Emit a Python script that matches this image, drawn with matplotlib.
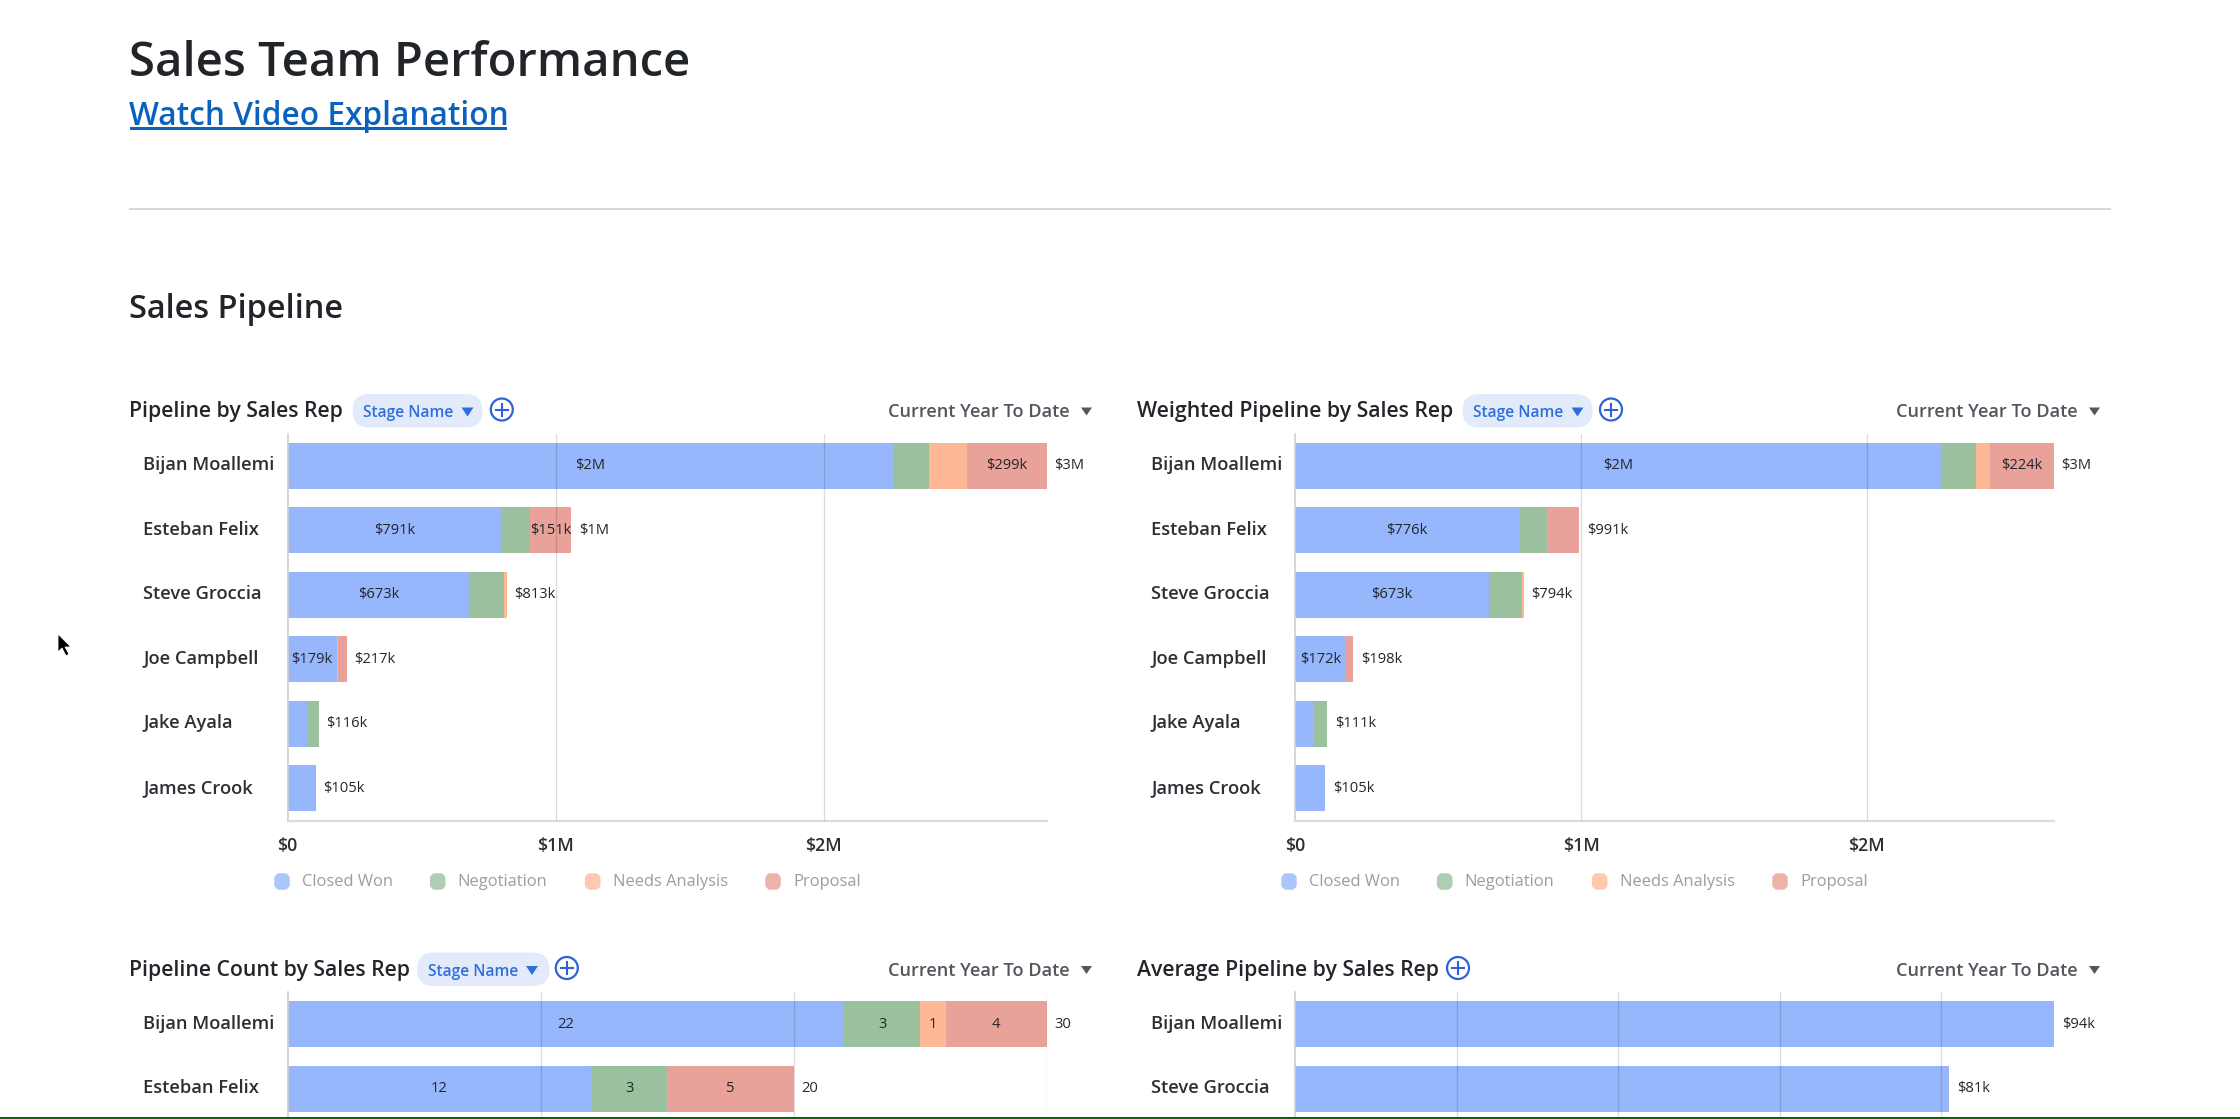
import matplotlib
matplotlib.use("Agg")
import matplotlib.pyplot as plt
from matplotlib.patches import FancyBboxPatch, Circle, Polygon, Rectangle
from matplotlib.transforms import ScaledTranslation

plt.rcParams['font.family'] = ['Open Sans', 'DejaVu Sans']

W, H = 2240, 1119
DARK, GREY = '#2b3036', '#52575e'
BLUE = '#2f6fdc'

stages = ['Closed Won', 'Negotiation', 'Needs Analysis', 'Proposal']
stage_colors = ['#97b7fc', '#9bc09d', '#ffb896', '#e8a299']
legend_colors = ['#abc6fd', '#afcdb1', '#ffc9b0', '#ecb3ab']

reps_full = ['Bijan Moallemi', 'Esteban Felix', 'Steve Groccia', 'Joe Campbell', 'Jake Ayala', 'James Crook']

# Pipeline by Sales Rep
pipe_closed = [2261000, 797000, 678000, 183000, 74000, 105000]
pipe_negot = [131000, 109000, 128000, 0, 42000, 0]
pipe_needs = [140000, 0, 12000, 4000, 0, 0]
pipe_prop = [299000, 152000, 0, 34000, 0, 0]
pipe_closed_lbl = ['$2M', '$791k', '$673k', '$179k', '', '']
pipe_prop_lbl = ['$299k', '$151k', '', '', '', '']
pipe_total_lbl = ['$3M', '$1M', '$813k', '$217k', '$116k', '$105k']

# Weighted Pipeline by Sales Rep
wtd_closed = [2261000, 781000, 678000, 176000, 65000, 105000]
wtd_negot = [120000, 100000, 114000, 0, 46000, 0]
wtd_needs = [49000, 0, 7000, 0, 0, 0]
wtd_prop = [224000, 113000, 0, 26000, 0, 0]
wtd_closed_lbl = ['$2M', '$776k', '$673k', '$172k', '', '']
wtd_prop_lbl = ['$224k', '', '', '', '', '']
wtd_total_lbl = ['$3M', '$991k', '$794k', '$198k', '$111k', '$105k']

# Pipeline Count by Sales Rep (cut off by the screenshot edge)
count_reps = ['Bijan Moallemi', 'Esteban Felix']
count_closed = [22, 12]
count_negot = [3, 3]
count_needs = [1, 0]
count_prop = [4, 5]
count_lbls = [['22', '12'], ['3', '3'], ['1', ''], ['4', '5']]
count_total_lbl = ['30', '20']

# Average Pipeline by Sales Rep (cut off by the screenshot edge)
avg_reps = ['Bijan Moallemi', 'Steve Groccia']
avg_vals = [94000, 81000]
avg_lbl = ['$94k', '$81k']

money_ticks = [0, 1000000, 2000000]
money_tick_lbl = ['$0', '$1M', '$2M']
count_ticks = [10, 20, 30]
avg_ticks = [20000, 40000, 60000, 80000]

fig = plt.figure(figsize=(W / 100, H / 100), dpi=100, facecolor='white')

ov = fig.add_axes([0, 0, 1, 1], zorder=5)
ov.set_xlim(0, W)
ov.set_ylim(H, 0)
ov.axis('off')
ov.patch.set_alpha(0)


def make_axes(l, r, t, b):
    return fig.add_axes([l / W, 1 - b / H, (r - l) / W, (b - t) / H], zorder=2)


def style(ax, reps, ticks, xmax, ymax, ticklabels=None, bottom=True):
    ax.set_xlim(0, xmax)
    ax.set_ylim(ymax, -0.5)
    ax.set_yticks(range(len(reps)), reps)
    for s in ('top', 'right'):
        ax.spines[s].set_visible(False)
    ax.spines['left'].set_color('#cfcfcf')
    ax.spines['left'].set_linewidth(1.2)
    ax.spines['bottom'].set_color('#dcdcdc')
    ax.spines['bottom'].set_linewidth(1.6)
    ax.spines['bottom'].set_visible(bottom)
    ax.tick_params(axis='y', length=0, pad=104)
    for t in ax.get_yticklabels():
        t.set_ha('left')
        t.set_va('center_baseline')
        t.set_fontsize(13.2)
        t.set_fontweight(600)
        t.set_color(DARK)
        t.set_transform(t.get_transform() + ScaledTranslation(0, 2.5 / 100, fig.dpi_scale_trans))
    ax.set_xticks(ticks)
    if ticklabels:
        ax.set_xticklabels(ticklabels, fontsize=12.8, fontweight=600, color=DARK)
        ax.tick_params(axis='x', length=0, pad=12)
    else:
        ax.tick_params(axis='x', length=0, labelbottom=False)
    for x in ticks:
        if x:
            ax.axvline(x, color='black', alpha=0.14, lw=0.9, zorder=4)


def stacked(ax, series, reps):
    left = [0] * len(reps)
    conts = []
    for vals, c, s in zip(series, stage_colors, stages):
        conts.append(ax.barh(range(len(reps)), vals, left=left, height=0.716, color=c,
                             edgecolor='none', label=s, zorder=2))
        left = [a + b for a, b in zip(left, vals)]
    return conts


def bar_labels(ax, cont, labels, kind='center', pad=0):
    ax.bar_label(cont, labels=labels, label_type=kind, padding=pad, fontsize=10.6,
                 color='#22262b', zorder=6)


def header(title, tx, base, pill, plus_x, cur_x, cur_tri):
    ov.text(tx, base, title, fontsize=15.3, fontweight=600, color='#22262b', va='baseline')
    if pill:
        x0, x1 = pill
        ov.add_patch(FancyBboxPatch((x0, base - 23.5), x1 - x0, 33.5,
                                    boxstyle='round,pad=0,rounding_size=16.7', fc='#e3ebfb', ec='none',
                                    mutation_aspect=1))
        ov.text(x0 + 10.5, base - 0.5, 'Stage Name', fontsize=11.2, fontweight=600, color=BLUE, va='baseline')
        ov.add_patch(Polygon([(x0 + 109, base - 10), (x0 + 121, base - 10), (x0 + 115, base - 1)],
                             fc=BLUE, ec='none'))
    ov.add_patch(Circle((plus_x, base - 8), 11, fc='white', ec='#2f62d6', lw=1.6))
    ov.plot([plus_x - 6, plus_x + 6], [base - 8, base - 8], color='#2f62d6', lw=1.5)
    ov.plot([plus_x, plus_x], [base - 14, base - 2], color='#2f62d6', lw=1.5)
    ov.text(cur_x, base - 0.5, 'Current Year To Date', fontsize=13.1, fontweight=600, color=GREY, va='baseline')
    ov.add_patch(Polygon([(cur_tri, base - 10), (cur_tri + 11, base - 10), (cur_tri + 5.5, base - 2)],
                         fc=GREY, ec='none'))


def legend(xs, texts_x):
    for s, c, x, tx in zip(stages, legend_colors, xs, texts_x):
        ov.add_patch(FancyBboxPatch((x + 3, 876), 10, 11, boxstyle='round,pad=0,rounding_size=3',
                                    fc=c, ec=c, lw=4.0, mutation_aspect=1))
        ov.text(tx, 886.5, s, fontsize=11.85, color='#9a9da1', va='baseline')


# --- page heading ---
ov.text(129, 76, 'Sales Team Performance', fontsize=34, fontweight=600, color='#212529', va='baseline')
ov.text(129, 125, 'Watch Video Explanation', fontsize=22.8, fontweight=600, color='#0b62be', va='baseline')
ov.add_patch(Rectangle((129.5, 127), 377, 3, fc='#0b62be', ec='none'))
ov.add_patch(Rectangle((129, 208), 1982, 2, fc='#d6d6d6', ec='none'))
ov.text(129, 318.5, 'Sales Pipeline', fontsize=23.4, fontweight=600, color='#212529', va='baseline')

# --- mouse pointer ---
ov.add_patch(Polygon([(58, 634), (58, 652), (62, 648), (66, 656), (69, 654), (65, 647), (71, 647)],
                     fc='black', ec='white', lw=0.6))

# --- chart 1 ---
ax1 = make_axes(287.5, 1047, 433.5, 820.5)
style(ax1, reps_full, money_ticks, 2832000, 5.5, money_tick_lbl)
c = stacked(ax1, [pipe_closed, pipe_negot, pipe_needs, pipe_prop], reps_full)
bar_labels(ax1, c[0], pipe_closed_lbl)
bar_labels(ax1, c[3], pipe_prop_lbl)
bar_labels(ax1, c[3], pipe_total_lbl, 'edge', 5.5)
header('Pipeline by Sales Rep', 129, 417.5, (352.5, 482.6), 501.8, 887.6, 1081)
legend([274, 429.7, 584.7, 765], [301.5, 457, 613, 793.5])

# --- chart 2 ---
ax2 = make_axes(1295.4, 2054.3, 433.5, 820.5)
style(ax2, reps_full, money_ticks, 2656000, 5.5, money_tick_lbl)
c = stacked(ax2, [wtd_closed, wtd_negot, wtd_needs, wtd_prop], reps_full)
bar_labels(ax2, c[0], wtd_closed_lbl)
bar_labels(ax2, c[3], wtd_prop_lbl)
bar_labels(ax2, c[3], wtd_total_lbl, 'edge', 5.5)
header('Weighted Pipeline by Sales Rep', 1137, 417.5, (1462.5, 1592.6), 1611, 1895.5, 2089)
legend([1281, 1436.7, 1591.7, 1772], [1309, 1464, 1620, 1800.5])

# --- chart 3 ---
ax3 = make_axes(287.5, 1047, 992, 1117)
style(ax3, count_reps, count_ticks, 30, 1.434, bottom=False)
c = stacked(ax3, [count_closed, count_negot, count_needs, count_prop], count_reps)
for k in range(4):
    bar_labels(ax3, c[k], count_lbls[k])
bar_labels(ax3, c[3], count_total_lbl, 'edge', 5.5)
header('Pipeline Count by Sales Rep', 129, 976, (417, 549.6), 566.8, 887.6, 1081)

# --- chart 4 ---
ax4 = make_axes(1295.4, 2054.3, 992, 1117)
style(ax4, avg_reps, avg_ticks, 94000, 1.434, bottom=False)
b = ax4.barh(range(2), avg_vals, height=0.716, color=stage_colors[0], edgecolor='none', zorder=2)
bar_labels(ax4, b, avg_lbl, 'edge', 5.5)
header('Average Pipeline by Sales Rep', 1137, 976, None, 1458, 1895.5, 2089)

# bottom edge line of the screenshot
ov.add_patch(Rectangle((0, 1117), W, 2, fc='#12610f', ec='none'))

fig.savefig('out.png', dpi=100, facecolor='white')
